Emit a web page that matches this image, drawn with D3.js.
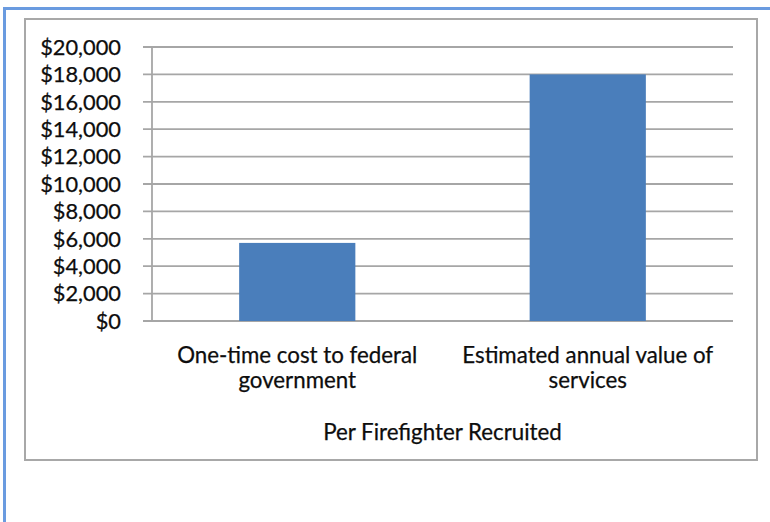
<!DOCTYPE html>
<html>
<head>
<meta charset="utf-8">
<style>
  body { margin: 0; background: #fff; }
  svg { display: block; }
  text { font-family: Lato, "Open Sans", sans-serif; fill: #0d0d0d; stroke: #0d0d0d; stroke-width: 0.25px; }
</style>
</head>
<body>
<div id="chart-area"></div>

<script src="https://d3js.org/d3.v7.min.js"></script>
<script>
    // values
    const categories = ["One-time cost to federal government", "Estimated annual value of services"];
    const categoryLines = [["One-time cost to federal", "government"], ["Estimated annual value of", "services"]];
    const values = [5700, 18000];
    const yTicks = [0, 2000, 4000, 6000, 8000, 10000, 12000, 14000, 16000, 18000, 20000];
    const axisTitle = "Per Firefighter Recruited";

    const width = 770;
    const height = 522;
    const plot = {left: 152, right: 733, top: 47, bottom: 321};

    const svg = d3.select("#chart-area")
        .append("svg")
            .attr("width", width)
            .attr("height", height);

    // outer blue frame (runs off the page right and bottom)
    svg.append("rect")
        .attr("x", 4.5).attr("y", 8.5)
        .attr("width", 900).attr("height", 700)
        .attr("fill", "none")
        .attr("stroke", "#6a9be0")
        .attr("stroke-width", 3);

    // chart area frame
    svg.append("rect")
        .attr("x", 25).attr("y", 19)
        .attr("width", 732).attr("height", 441)
        .attr("fill", "#fff")
        .attr("stroke", "#a8a8a8")
        .attr("stroke-width", 2);

    const x = d3.scaleBand()
        .domain(categories)
        .range([plot.left, plot.right])
        .paddingInner(0.6)
        .paddingOuter(0.3);

    const y = d3.scaleLinear()
        .domain([0, 20000])
        .range([plot.bottom, plot.top]);

    // gridlines
    svg.append("g")
        .selectAll("line")
        .data(yTicks)
        .join("line")
            .attr("x1", plot.left - 9)
            .attr("x2", plot.right)
            .attr("y1", d => y(d))
            .attr("y2", d => y(d))
            .attr("stroke", "#a6a6a6")
            .attr("stroke-width", 1.8);

    // y axis line
    svg.append("line")
        .attr("x1", plot.left).attr("x2", plot.left)
        .attr("y1", plot.top).attr("y2", plot.bottom)
        .attr("stroke", "#a6a6a6")
        .attr("stroke-width", 1.8);

    // bars
    svg.append("g")
        .selectAll("rect")
        .data(values)
        .join("rect")
            .attr("x", (d, i) => x(categories[i]))
            .attr("width", x.bandwidth())
            .attr("y", d => y(d))
            .attr("height", d => y(0) - y(d))
            .attr("fill", "#4a7ebb");

    // tick labels
    const fmt = d3.format("$,.0f");
    svg.append("g")
        .selectAll("text")
        .data(yTicks)
        .join("text")
            .attr("x", 121)
            .attr("y", d => y(d))
            .attr("dy", "0.36em")
            .attr("text-anchor", "end")
            .style("font-size", "21.8px")
            .text(d => fmt(d));

    // category labels
    const cat = svg.append("g")
        .selectAll("text")
        .data(categories)
        .join("text")
            .attr("x", d => x(d) + x.bandwidth() / 2)
            .attr("y", 363)
            .attr("text-anchor", "middle")
            .style("font-size", "22.3px");
    cat.selectAll("tspan")
        .data((d, i) => categoryLines[i])
        .join("tspan")
            .attr("x", function() { return this.parentNode.getAttribute("x"); })
            .attr("dy", (d, i) => i === 0 ? 0 : 25)
            .text(d => d);

    svg.append("text")
        .attr("x", (plot.left + plot.right) / 2)
        .attr("y", 440)
        .attr("text-anchor", "middle")
        .style("font-size", "22.3px")
        .text(axisTitle);
</script>
</body>
</html>
